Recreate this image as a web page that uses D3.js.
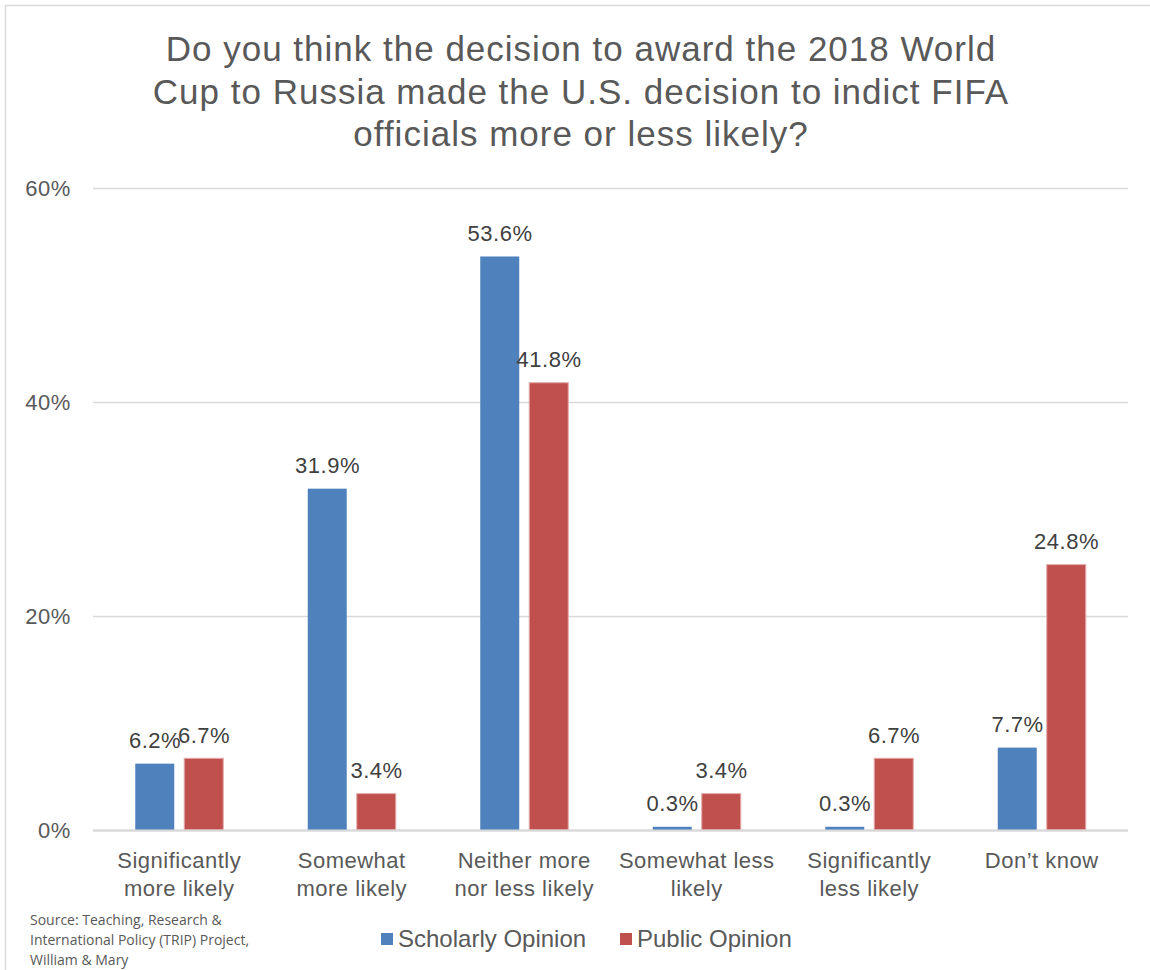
<!DOCTYPE html>
<html><head><meta charset="utf-8">
<script src="https://cdn.jsdelivr.net/npm/d3@7"></script>
<style>
body{margin:0;background:#fff;}
svg text{font-family:"Liberation Sans",Arial,sans-serif;}
</style></head>
<body>
<svg id="chart" width="1150" height="970"></svg>
<script>
const titleLines = ["Do you think the decision to award the 2018 World","Cup to Russia made the U.S. decision to indict FIFA","officials more or less likely?"];
const categories = [["Significantly","more likely"],["Somewhat","more likely"],["Neither more","nor less likely"],["Somewhat less","likely"],["Significantly","less likely"],["Don’t know"]];
const seriesNames = ["Scholarly Opinion","Public Opinion"];
const scholarly = [6.2,31.9,53.6,0.3,0.3,7.7];
const publicOp = [6.7,3.4,41.8,3.4,6.7,24.8];
const yTicks = [0,20,40,60];
const sourceLines = ["Source: Teaching, Research &","International Policy (TRIP) Project,","William & Mary"];
const colors = ["#4F81BD","#C0504D"];

(function(){
const svg = d3.select("#chart");
svg.append("rect").attr("x",5.5).attr("y",5.5).attr("width",1150).attr("height",970)
  .attr("fill","none").attr("stroke","#d9d9d9").attr("stroke-width",1.5);

const pLeft=93, pRight=1128, pTop=188, pBottom=830;
const x = d3.scaleBand().domain(d3.range(categories.length)).range([pLeft,pRight]).paddingInner(0).paddingOuter(0);
const y = d3.scaleLinear().domain([0,60]).range([pBottom,pTop]);
const barW = 39, gap = 10;

// title
svg.append("text").attr("text-anchor","middle").attr("fill","#595959").attr("font-size",35)
  .attr("letter-spacing",1)
  .selectAll("tspan").data(titleLines).join("tspan").attr("x",581).attr("y",(d,i)=>61+i*42.5).text(d=>d);

// gridlines
svg.append("g").selectAll("line").data(yTicks).join("line")
  .attr("x1",pLeft).attr("x2",pRight).attr("y1",d=>Math.round(y(d))+0.5).attr("y2",d=>Math.round(y(d))+0.5)
  .attr("stroke","#d9d9d9").attr("stroke-width",d=>d===0?2:1.3);

// y labels
const yAxis = d3.axisLeft(y).tickValues(yTicks).tickFormat(d=>d+"%").tickSize(0).tickPadding(0);
const ya = svg.append("g").attr("transform",`translate(71,0)`).call(yAxis);
ya.select(".domain").remove();
ya.selectAll("text").attr("font-size",22).attr("letter-spacing",0.6).attr("fill","#595959").attr("font-family","Liberation Sans, Arial, sans-serif");

// bars
const series=[scholarly,publicOp];
series.forEach((vals,s)=>{
  const g=svg.append("g");
  const bx = i => x(i)+x.bandwidth()/2 - (barW+gap/2) + s*(barW+gap);
  g.selectAll("rect").data(vals).join("rect")
    .attr("x",(d,i)=>bx(i)).attr("width",barW)
    .attr("y",d=>y(d)).attr("height",d=>pBottom-y(d))
    .attr("fill",colors[s]).attr("stroke",s===1?"#e4a9a7":"none").attr("stroke-width",s===1?1:0);
  g.selectAll("text").data(vals).join("text")
    .attr("x",(d,i)=>bx(i)+barW/2+0.3).attr("y",d=>y(d)-15.5)
    .attr("text-anchor","middle").attr("font-size",22).attr("letter-spacing",0.5).attr("fill","#404040")
    .text(d=>d.toFixed(1)+"%");
});

// zero line on top
svg.append("line").attr("x1",pLeft).attr("x2",pRight).attr("y1",y(0)+0.5).attr("y2",y(0)+0.5)
  .attr("stroke","#d9d9d9").attr("stroke-width",2);

// category labels
const cg = svg.append("g");
categories.forEach((lines,i)=>{
  cg.append("text").attr("text-anchor","middle").attr("font-size",22).attr("letter-spacing",0.5).attr("fill","#595959")
    .selectAll("tspan").data(lines).join("tspan")
    .attr("x",x(i)+x.bandwidth()/2).attr("y",(d,j)=>868+j*28).text(d=>d);
});

// legend
const legX=[381,620];
seriesNames.forEach((n,i)=>{
  svg.append("rect").attr("x",legX[i]).attr("y",933).attr("width",12).attr("height",12).attr("fill",colors[i]);
  svg.append("text").attr("x",legX[i]+17).attr("y",947).attr("font-size",24).attr("fill","#595959").text(n);
});

// source
svg.append("text").attr("font-size",14).attr("fill","#595959")
  .selectAll("tspan").data(sourceLines).join("tspan")
  .attr("x",30).attr("y",(d,i)=>925+i*20).style("font-family","'Open Sans',sans-serif").text(d=>d);
})();
</script>
</body></html>
